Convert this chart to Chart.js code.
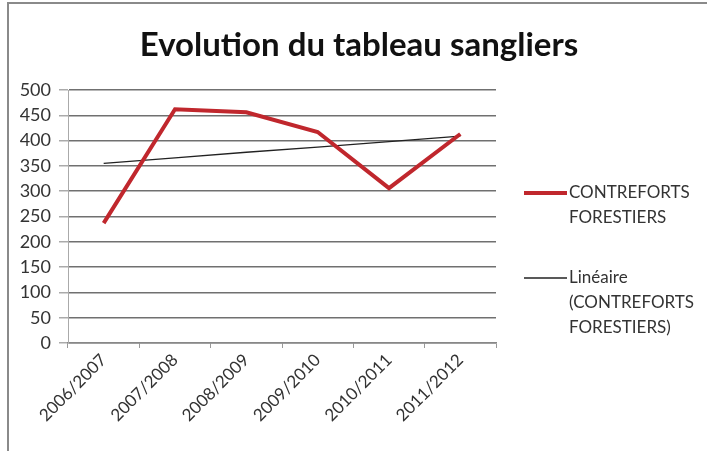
<!DOCTYPE html>
<html>
<head>
<meta charset="utf-8">
<script src="https://cdn.jsdelivr.net/npm/chart.js@4"></script>
<style>
  html, body { margin: 0; padding: 0; background: #fff; }
  #wrap { position: relative; width: 707px; height: 451px; overflow: hidden; }
  #frame { position: absolute; left: 7px; top: 2px; width: 760px; height: 500px;
           border-left: 2px solid #8a8a8a; border-top: 2px solid #8a8a8a; }
  canvas { position: absolute; left: 0; top: 0; }
</style>
</head>
<body>
<div id="wrap">
  <div id="frame"></div>
  <canvas id="myChart" width="707" height="451"></canvas>
</div>
<script>
const seasons = ['2006/2007', '2007/2008', '2008/2009', '2009/2010', '2010/2011', '2011/2012'];
const sangliers = [237, 462, 456, 417, 306, 413];
// linear trend
const trend = [355, 366, 377, 387, 398, 409];
const yTicks = [0, 50, 100, 150, 200, 250, 300, 350, 400, 450, 500];
const chartTitle = 'Evolution du tableau sangliers';

const legendItems = [
  { color: '#c0272d', width: 4, y: 193, lines: ['CONTREFORTS', 'FORESTIERS'] },
  { color: '#222222', width: 1.3, y: 278, lines: ['Linéaire', '(CONTREFORTS', 'FORESTIERS)'] }
];

// title centred on the whole picture, legend at the right
const decorations = {
  id: 'decorations',
  afterDraw(chart) {
    const ctx = chart.ctx;
    ctx.save();
    ctx.font = 'bold 33px Lato';
    ctx.fillStyle = '#111';
    ctx.textAlign = 'center';
    ctx.textBaseline = 'middle';
    ctx.fillText(chartTitle, 359, 45);

    ctx.font = '17px Lato';
    ctx.fillStyle = '#333';
    ctx.textAlign = 'left';
    legendItems.forEach(item => {
      ctx.strokeStyle = item.color;
      ctx.lineWidth = item.width;
      ctx.beginPath();
      ctx.moveTo(524, item.y);
      ctx.lineTo(567, item.y);
      ctx.stroke();
      item.lines.forEach((t, i) => ctx.fillText(t, 569, item.y + i * 25));
    });
    ctx.restore();
  }
};

new Chart(document.getElementById('myChart'), {
  type: 'line',
  data: {
    labels: seasons,
    datasets: [
      {
        label: 'CONTREFORTS FORESTIERS',
        data: sangliers,
        borderColor: '#c0272d',
        borderWidth: 4,
        pointRadius: 0,
        tension: 0
      },
      {
        label: 'Linéaire (CONTREFORTS FORESTIERS)',
        data: trend,
        borderColor: '#222',
        borderWidth: 1.3,
        pointRadius: 0,
        tension: 0
      }
    ]
  },
  options: {
    responsive: false,
    animation: false,
    layout: { padding: { left: 0, right: 211, top: 90, bottom: 0 } },
    plugins: {
      legend: { display: false },
      tooltip: { enabled: false },
      title: { display: false }
    },
    scales: {
      x: {
        offset: true,
        afterFit(scale) { scale.height = 108; },
        grid: {
          offset: true,
          drawOnChartArea: false,
          drawTicks: true,
          tickLength: 5,
          color: '#999'
        },
        border: { color: '#888', width: 1.5 },
        ticks: {
          color: '#333',
          minRotation: 45,
          maxRotation: 45,
          padding: 2,
          font: { family: 'Lato', size: 17 }
        }
      },
      y: {
        min: 0,
        max: 500,
        afterFit(scale) { scale.width = 68; },
        afterBuildTicks(scale) { scale.ticks = yTicks.map(v => ({ value: v })); },
        grid: {
          color: '#707070',
          lineWidth: 1.5,
          tickLength: 9,
          tickColor: '#aaa'
        },
        border: { color: '#aaa', width: 1 },
        ticks: {
          color: '#333',
          padding: 8,
          font: { family: 'Lato', size: 18 }
        }
      }
    }
  },
  plugins: [decorations]
});
</script>
</body>
</html>
